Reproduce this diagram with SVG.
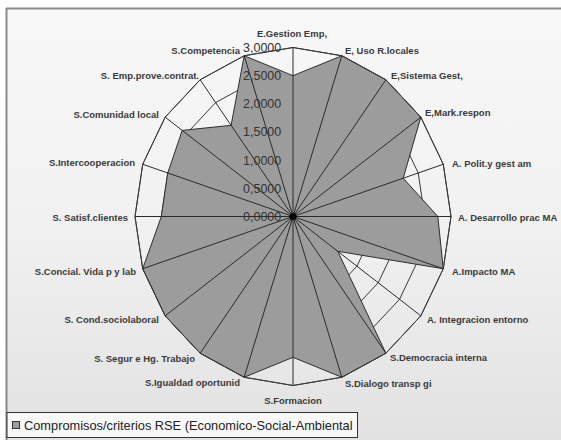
<svg xmlns="http://www.w3.org/2000/svg" width="561" height="440" viewBox="0 0 561 440">
<defs>
<linearGradient id="bg" x1="0" y1="0" x2="0" y2="1">
<stop offset="0" stop-color="#f8f8f8"/>
<stop offset="0.5" stop-color="#f1f1f1"/>
<stop offset="1" stop-color="#e2e2e2"/>
</linearGradient>
<style>
.ring{fill:none;stroke:#3a3a3a;stroke-width:1}
.spoke{stroke:#2a2a2a;stroke-width:1}
.data{fill:#9c9c9c;stroke:#2e2e2e;stroke-width:1;stroke-linejoin:round}
.lbl{font-family:"Liberation Sans",Arial,sans-serif;font-size:9.5px;font-weight:bold;fill:#3a3a3a}
.tick{font-family:"Liberation Sans",Arial,sans-serif;font-size:12.5px;fill:#333}
.leg{font-family:"Liberation Sans",Arial,sans-serif;font-size:12.8px;fill:#222}
</style>
</defs>
<rect x="0" y="0" width="561" height="440" fill="#ffffff"/>
<rect x="7" y="9" width="554" height="431" fill="url(#bg)"/>
<line x1="6" y1="8.5" x2="561" y2="8.5" stroke="#8a8a8a" stroke-width="2"/>
<line x1="6.5" y1="8" x2="6.5" y2="440" stroke="#8a8a8a" stroke-width="2"/>

<g id="grid" transform="translate(293,216.5)">
<polygon class="ring" points="0,-28.17 8.14,-26.79 15.48,-22.79 21.30,-16.56 25.05,-8.70 26.33,0 25.05,8.70 21.30,16.56 15.48,22.79 8.14,26.79 0,28.17 -8.14,26.79 -15.48,22.79 -21.30,16.56 -25.05,8.70 -26.33,0 -25.05,-8.70 -21.30,-16.56 -15.48,-22.79 -8.14,-26.79"/>
<polygon class="ring" points="0,-56.33 16.27,-53.58 30.96,-45.57 42.61,-33.11 50.09,-17.41 52.67,0 50.09,17.41 42.61,33.11 30.96,45.57 16.27,53.58 0,56.33 -16.27,53.58 -30.96,45.57 -42.61,33.11 -50.09,17.41 -52.67,0 -50.09,-17.41 -42.61,-33.11 -30.96,-45.57 -16.27,-53.58"/>
<polygon class="ring" points="0,-84.5 24.41,-80.37 46.44,-68.36 63.91,-49.67 75.14,-26.11 79,0 75.14,26.11 63.91,49.67 46.44,68.36 24.41,80.37 0,84.5 -24.41,80.37 -46.44,68.36 -63.91,49.67 -75.14,26.11 -79,0 -75.14,-26.11 -63.91,-49.67 -46.44,-68.36 -24.41,-80.37"/>
<polygon class="ring" points="0,-112.67 32.55,-107.16 61.91,-91.15 85.21,-66.23 100.18,-34.81 105.33,0 100.18,34.81 85.21,66.23 61.91,91.15 32.55,107.16 0,112.67 -32.55,107.16 -61.91,91.15 -85.21,66.23 -100.18,34.81 -105.33,0 -100.18,-34.81 -85.21,-66.23 -61.91,-91.15 -32.55,-107.16"/>
<polygon class="ring" points="0,-140.83 40.68,-133.95 77.39,-113.93 106.52,-82.78 125.23,-43.52 131.67,0 125.23,43.52 106.52,82.78 77.39,113.93 40.68,133.95 0,140.83 -40.68,133.95 -77.39,113.93 -106.52,82.78 -125.23,43.52 -131.67,0 -125.23,-43.52 -106.52,-82.78 -77.39,-113.93 -40.68,-133.95"/>
<polygon class="ring" points="0,-169 48.82,-160.74 92.87,-136.72 127.82,-99.34 150.27,-52.22 158,0 150.27,52.22 127.82,99.34 92.87,136.72 48.82,160.74 0,169 -48.82,160.74 -92.87,136.72 -127.82,99.34 -150.27,52.22 -158,0 -150.27,-52.22 -127.82,-99.34 -92.87,-136.72 -48.82,-160.74"/>
</g>

<g id="series" transform="translate(293,216.5)">
<polygon class="data" points="0,-140.83 48.82,-160.74 92.87,-136.72 127.82,-99.34 110.20,-38.29 144.83,0 150.27,52.22 44.74,34.77 92.87,136.72 48.82,160.74 0,140.83 -48.82,160.74 -92.87,136.72 -127.82,99.34 -150.27,52.22 -131.67,0 -125.23,-43.52 -110.78,-86.10 -61.91,-91.15 -48.82,-160.74"/>
<polygon class="ring" points="0,-169 48.82,-160.74 92.87,-136.72 127.82,-99.34 150.27,-52.22 158,0 150.27,52.22 127.82,99.34 92.87,136.72 48.82,160.74 0,169 -48.82,160.74 -92.87,136.72 -127.82,99.34 -150.27,52.22 -158,0 -150.27,-52.22 -127.82,-99.34 -92.87,-136.72 -48.82,-160.74"/>
</g>

<g id="connectors" transform="translate(293,216.5)">
<line class="spoke" x1="0" y1="0" x2="0" y2="-169"/>
<line class="spoke" x1="0" y1="0" x2="48.82" y2="-160.74"/>
<line class="spoke" x1="0" y1="0" x2="92.87" y2="-136.72"/>
<line class="spoke" x1="0" y1="0" x2="127.82" y2="-99.34"/>
<line class="spoke" x1="0" y1="0" x2="150.27" y2="-52.22"/>
<line class="spoke" x1="0" y1="0" x2="158" y2="0"/>
<line class="spoke" x1="0" y1="0" x2="150.27" y2="52.22"/>
<line class="spoke" x1="0" y1="0" x2="127.82" y2="99.34"/>
<line class="spoke" x1="0" y1="0" x2="92.87" y2="136.72"/>
<line class="spoke" x1="0" y1="0" x2="48.82" y2="160.74"/>
<line class="spoke" x1="0" y1="0" x2="0" y2="169"/>
<line class="spoke" x1="0" y1="0" x2="-48.82" y2="160.74"/>
<line class="spoke" x1="0" y1="0" x2="-92.87" y2="136.72"/>
<line class="spoke" x1="0" y1="0" x2="-127.82" y2="99.34"/>
<line class="spoke" x1="0" y1="0" x2="-150.27" y2="52.22"/>
<line class="spoke" x1="0" y1="0" x2="-158" y2="0"/>
<line class="spoke" x1="0" y1="0" x2="-150.27" y2="-52.22"/>
<line class="spoke" x1="0" y1="0" x2="-127.82" y2="-99.34"/>
<line class="spoke" x1="0" y1="0" x2="-92.87" y2="-136.72"/>
<line class="spoke" x1="0" y1="0" x2="-48.82" y2="-160.74"/>
<circle cx="0" cy="0" r="3.5" fill="#000"/>
</g>

<g id="ticks">
<text class="tick" x="243" y="51.8">3,0000</text>
<text class="tick" x="243" y="80">2,5000</text>
<text class="tick" x="243" y="108.1">2,0000</text>
<text class="tick" x="243" y="136.3">1,5000</text>
<text class="tick" x="243" y="164.5">1,0000</text>
<text class="tick" x="243" y="192.6">0,5000</text>
<text class="tick" x="243" y="220.8">0,0000</text>
</g>

<g id="labels">
<g id="n0"><text class="lbl" x="292" y="36.5" text-anchor="middle">E.Gestion Emp,</text></g>
<g id="n1"><text class="lbl" x="345" y="53.5">E, Uso R.locales</text></g>
<g id="n2"><text class="lbl" x="391" y="78.5">E,Sistema Gest,</text></g>
<g id="n3"><text class="lbl" x="425" y="115.5">E,Mark.respon</text></g>
<g id="n4"><text class="lbl" x="452" y="166.5">A. Polit.y gest am</text></g>
<g id="n5"><text class="lbl" x="458" y="220.5">A. Desarrollo prac MA</text></g>
<g id="n6"><text class="lbl" x="452" y="274.5">A.Impacto MA</text></g>
<g id="n7"><text class="lbl" x="427" y="322.5">A. Integracion entorno</text></g>
<g id="n8"><text class="lbl" x="390" y="360.5">S.Democracia interna</text></g>
<g id="n9"><text class="lbl" x="345" y="386.5">S.Dialogo transp gi</text></g>
<g id="n10"><text class="lbl" x="293" y="403.5" text-anchor="middle">S.Formacion</text></g>
<g id="n11"><text class="lbl" x="240" y="385.5" text-anchor="end">S.Igualdad oportunid</text></g>
<g id="n12"><text class="lbl" x="195" y="361.5" text-anchor="end">S. Segur e Hg. Trabajo</text></g>
<g id="n13"><text class="lbl" x="159" y="322.5" text-anchor="end">S. Cond.sociolaboral</text></g>
<g id="n14"><text class="lbl" x="136" y="274.5" text-anchor="end">S.Concial. Vida p y lab</text></g>
<g id="n15"><text class="lbl" x="128" y="220.5" text-anchor="end">S. Satisf.clientes</text></g>
<g id="n16"><text class="lbl" x="135" y="165.5" text-anchor="end">S.Intercooperacion</text></g>
<g id="n17"><text class="lbl" x="159" y="117.5" text-anchor="end">S.Comunidad local</text></g>
<g id="n18"><text class="lbl" x="199" y="78.5" text-anchor="end">S. Emp.prove.contrat.</text></g>
<g id="n19"><text class="lbl" x="240" y="53.5" text-anchor="end">S.Competencia</text></g>
</g>

<g id="legend">
<rect x="7" y="412.5" width="350.5" height="25" fill="#f8f8f8" stroke="#333" stroke-width="1"/>
<rect x="12.5" y="421.5" width="7" height="7" fill="#9c9c9c" stroke="#333" stroke-width="1"/>
<text class="leg" x="24" y="430">Compromisos/criterios RSE (Economico-Social-Ambiental</text>
</g>
</svg>
